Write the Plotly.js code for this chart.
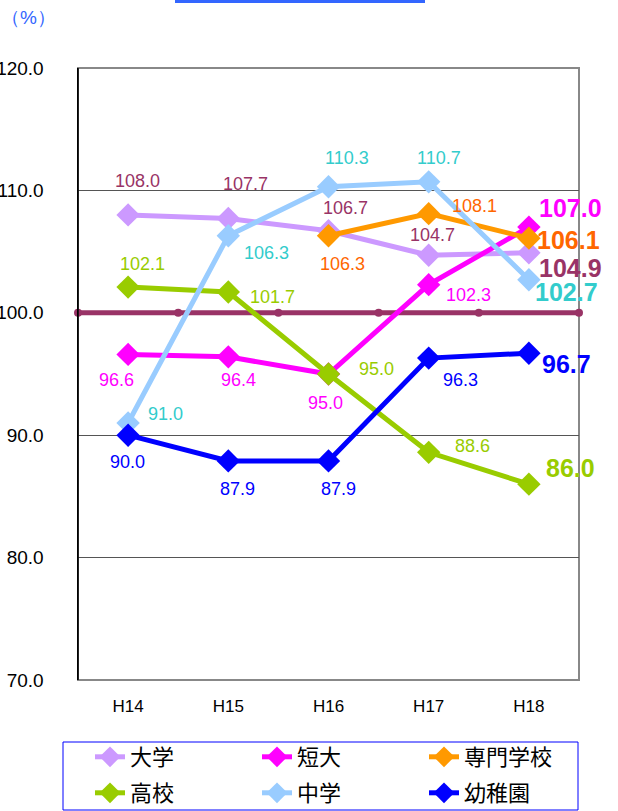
<!DOCTYPE html>
<html><head><meta charset="utf-8">
<script src="https://cdn.plot.ly/plotly-3.0.1.min.js"></script>
<style>html,body{margin:0;padding:0;background:#fff}#c{width:618px;height:811px}</style>
</head><body><div id="c"></div>
<script>
const categories = ['H14','H15','H16','H17','H18'];
const daigaku = [108.0, 107.7, 106.7, 104.7, 104.9];
const tandai = [96.6, 96.4, 95.0, 102.3, 107.0];
const senmon = [null, null, 106.3, 108.1, 106.1];
const koukou = [102.1, 101.7, 95.0, 88.6, 86.0];
const chugaku = [91.0, 106.3, 110.3, 110.7, 102.7];
const youchien = [90.0, 87.9, 87.9, 96.3, 96.7];
const baseline = 100;

const FONT = 'Liberation Sans, Arial, sans-serif';
const series = [
  {name:'大学', y:daigaku, color:'#CC99FF', label:'#993366', legend:'legend',
   off:[[9,34],[17,35],[17,23],[4,20],[42,-15]]},
  {name:'短大', y:tandai, color:'#FF00FF', label:'#FF00FF', legend:'legend',
   off:[[-12,-26],[10,-23],[-3,-29],[40,-10],[42,19]]},
  {name:'専門学校', y:senmon, color:'#FF9900', label:'#FF6600', legend:'legend',
   off:[null,null,[14,-28],[46,8],[40,-2]]},
  {name:'高校', y:koukou, color:'#99CC00', label:'#99CC00', legend:'legend2',
   off:[[14,23],[44,-5],[48,5],[44,6],[42,16]]},
  {name:'中学', y:chugaku, color:'#99CCFF', label:'#33CCCC', legend:'legend2',
   off:[[37,9],[38,-17],[18,29],[10,24],[38,-12]]},
  {name:'幼稚園', y:youchien, color:'#0000FF', label:'#0000FF', legend:'legend2',
   off:[[-1,-27],[9,-28],[10,-28],[32,-22],[38,-11]]}
];

const xs = categories.map((c,i)=>i);
const traces = [];
const bx = [-0.5,0.5,1.5,2.5,3.5,4.5];
traces.push({x:bx, y:bx.map(()=>baseline), mode:'lines+markers', showlegend:false,
  line:{color:'#993366', width:5}, marker:{symbol:'circle', size:8, color:'#993366'},
  hoverinfo:'skip', cliponaxis:false});

const annotations = [];
series.forEach(s=>{
  traces.push({x:xs, y:s.y, name:s.name, legend:s.legend, mode:'lines+markers', connectgaps:false,
    line:{color:s.color, width:5}, marker:{symbol:'diamond', size:18, color:s.color},
    cliponaxis:false});
  s.y.forEach((v,i)=>{
    if(v===null) return;
    const last = i===s.y.length-1;
    annotations.push({x:i, y:v, xref:'x', yref:'y', text:v.toFixed(1), showarrow:false,
      xshift:s.off[i][0], yshift:s.off[i][1],
      font:{family:FONT, size: last?25:18, color:s.label, weight: last?'bold':'normal'}});
  });
});
annotations.push({xref:'paper', yref:'paper', x:-0.098, y:1.082, xanchor:'center', yanchor:'middle',
  text:'（%）', showarrow:false, font:{family:FONT, size:19, color:'#3366FF'}});

const legendBase = {orientation:'h', xref:'container', yref:'container', xanchor:'left', yanchor:'middle',
  x:90/618, borderwidth:0, bgcolor:'rgba(0,0,0,0)', entrywidth:122, entrywidthmode:'pixels',
  itemwidth:30, font:{family:'Noto Sans CJK JP, sans-serif', size:22, color:'#000'}};

const layout = {
  width:618, height:811,
  margin:{l:78, r:39, t:68, b:131},
  paper_bgcolor:'#fff', plot_bgcolor:'#fff',
  showlegend:true,
  xaxis:{range:[-0.5,4.5], tickvals:xs, ticktext:categories, showgrid:false, zeroline:false,
    showline:false, ticks:'', ticklen:0, ticklabelstandoff:14,
    tickfont:{family:FONT, size:17, color:'#000'}},
  yaxis:{range:[70,120], dtick:10, tick0:70, tickformat:'.1f', showgrid:true, gridcolor:'#555', gridwidth:1,
    zeroline:false, showline:true, linecolor:'#000', linewidth:1.5, ticks:'', ticklen:0,
    tickfont:{family:FONT, size:19, color:'#000'}, ticklabelstandoff:29},
  legend:Object.assign({}, legendBase, {y:(811-757)/811}),
  legend2:Object.assign({}, legendBase, {y:(811-793)/811}),
  shapes:[
    {type:'rect', xref:'paper', yref:'paper', x0:0, x1:1, y0:0, y1:1, line:{color:'#888', width:2}, layer:'below'},
    {type:'line', xref:'paper', yref:'paper', x0:0, x1:0, y0:0, y1:1, line:{color:'#000', width:1.5}},
    {type:'line', xref:'paper', yref:'paper', x0:(175-78)/501, x1:(425-78)/501, y0:(680-1.5)/612, y1:(680-1.5)/612, line:{color:'#3366FF', width:3}},
    {type:'rect', xref:'paper', yref:'paper', x0:(63-78)/501, x1:(578-78)/501, y0:(680-810)/612, y1:(680-742)/612, line:{color:'#0000FF', width:1}}
  ],
  annotations:annotations
};
Plotly.newPlot('c', traces, layout, {displayModeBar:false, staticPlot:true});
</script></body></html>
